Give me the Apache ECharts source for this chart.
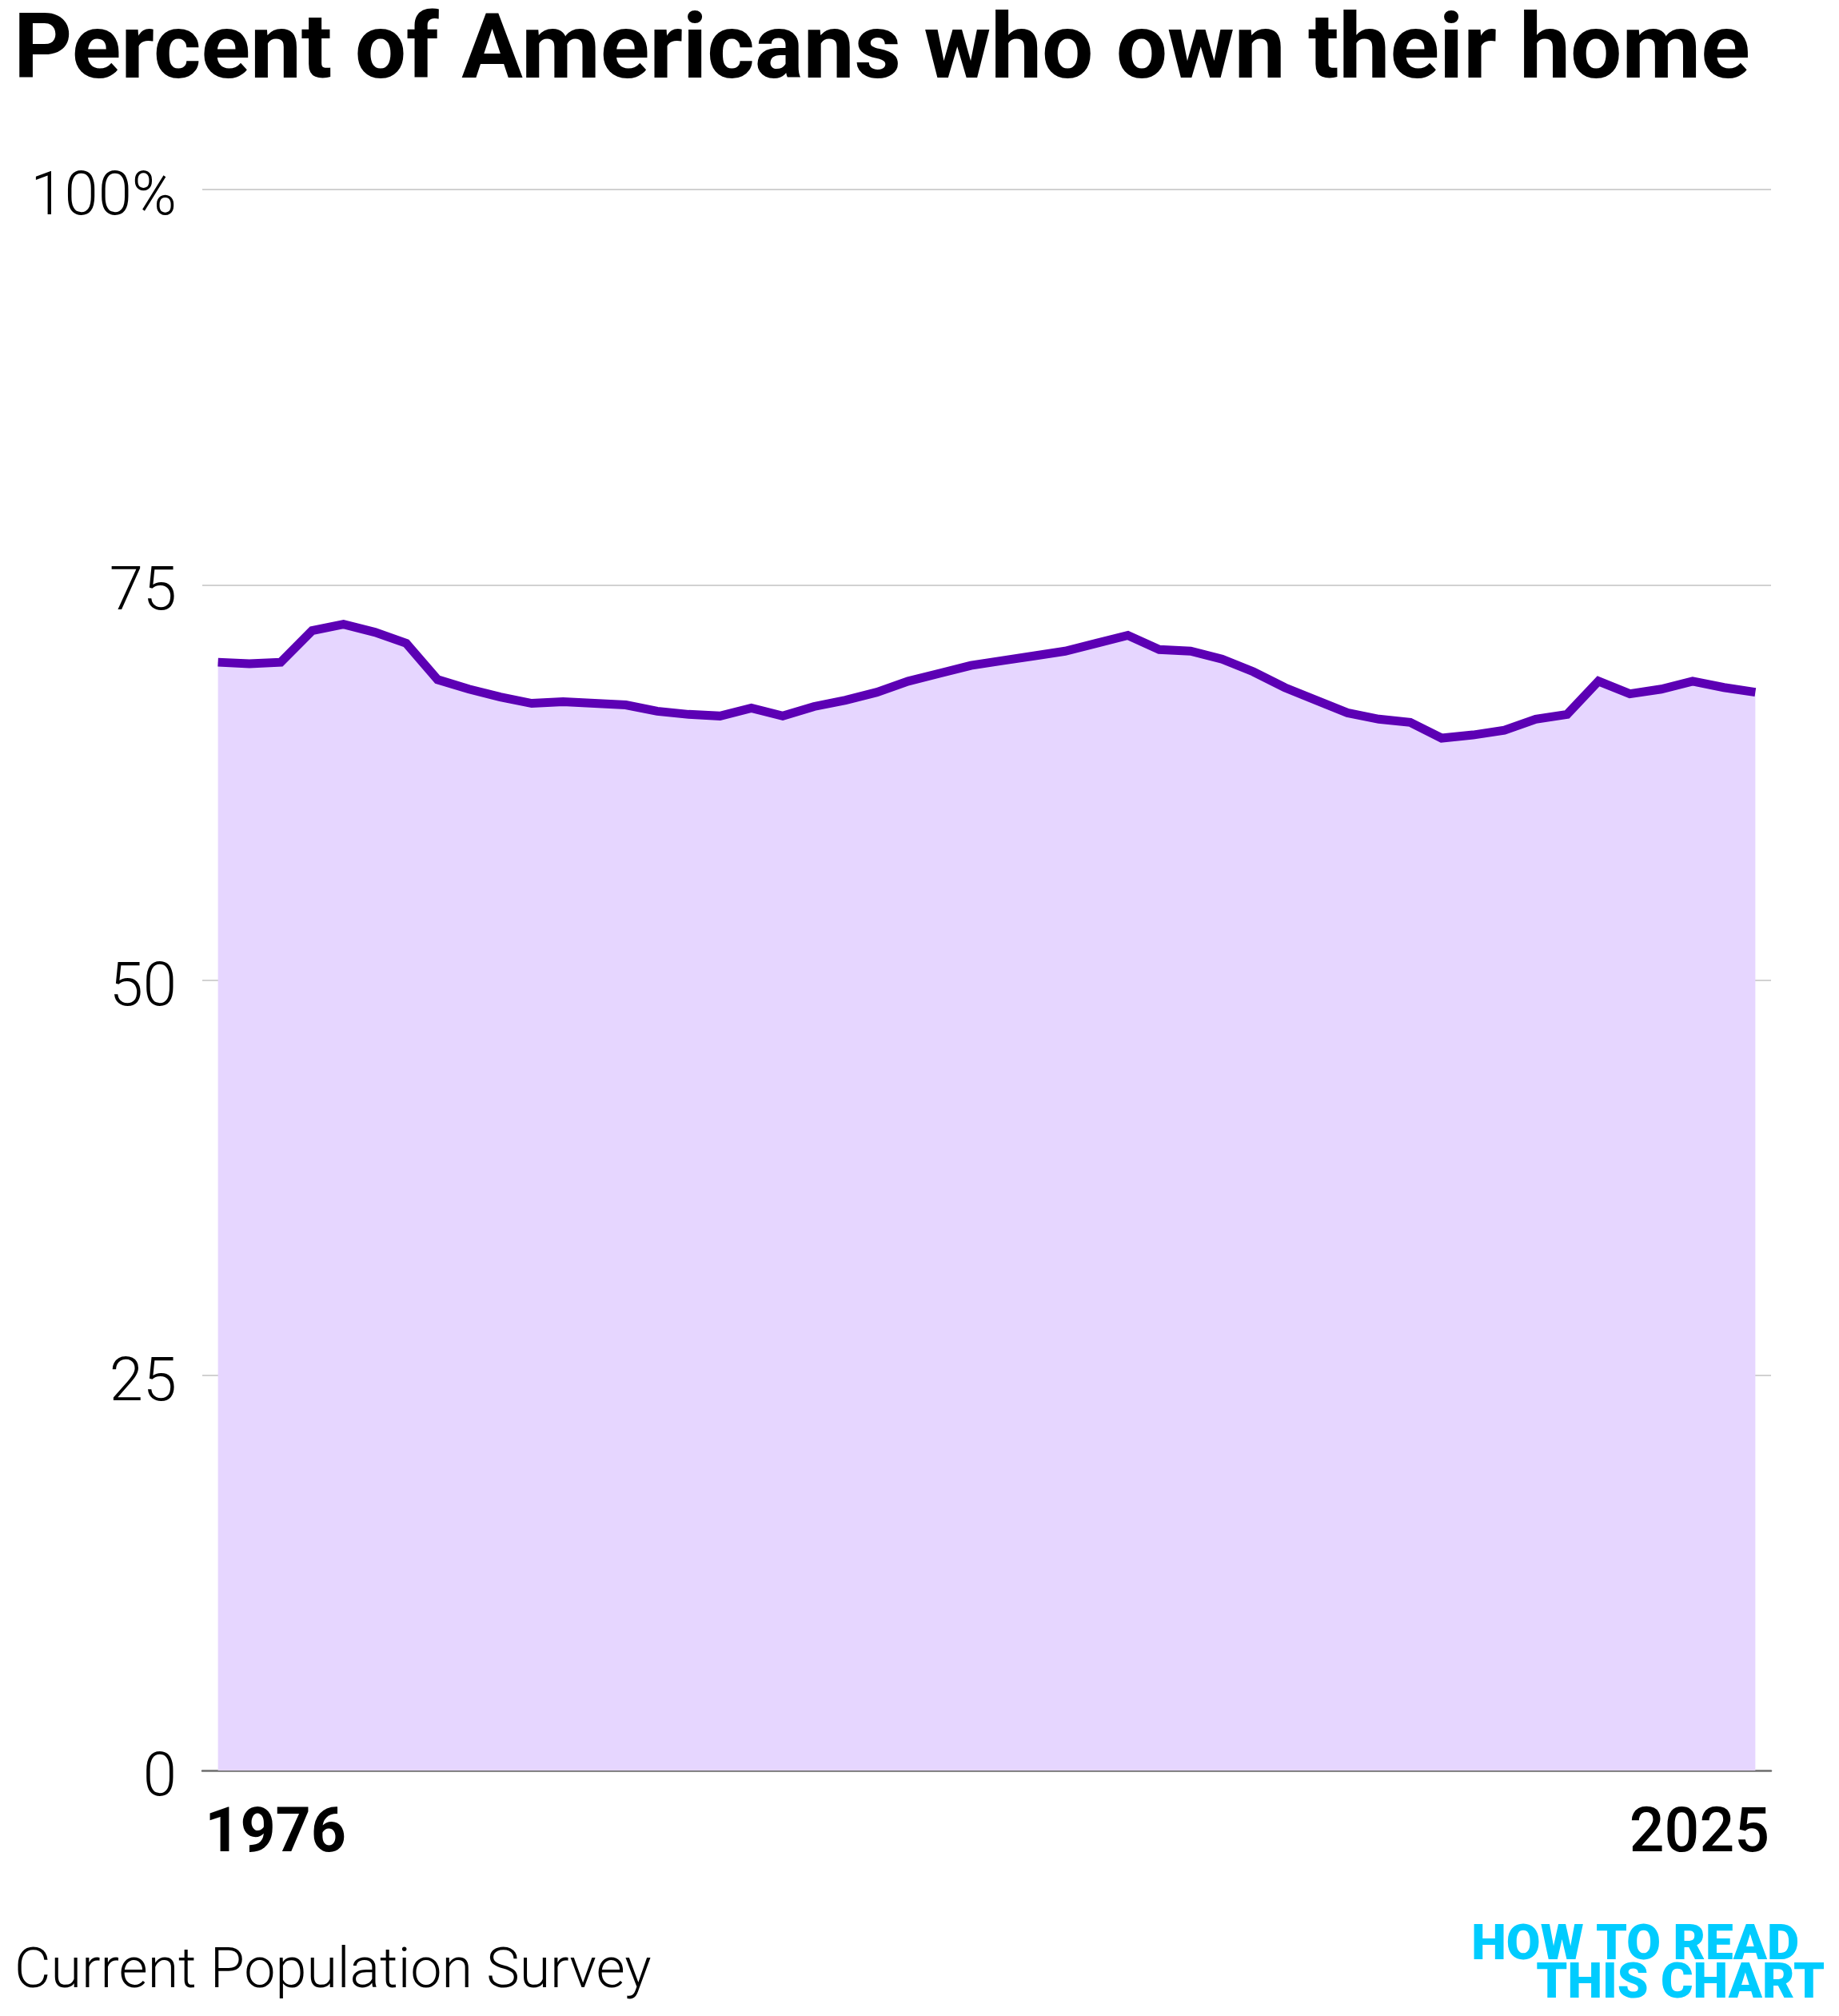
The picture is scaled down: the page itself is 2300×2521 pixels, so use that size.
<!DOCTYPE html>
<html>
<head>
<meta charset="utf-8">
<style>
  html, body { margin: 0; padding: 0; background: #ffffff; }
  #chart { width: 2300px; height: 2521px; }
</style>
<script src="https://cdn.jsdelivr.net/npm/echarts@6/dist/echarts.min.js"></script>
</head>
<body>
<div id="chart"></div>
<script>
const titleText = 'Percent of Americans who own their home';
const sourceText = 'Current Population Survey';
const logoLine1 = 'HOW TO READ';
const logoLine2 = 'THIS CHART';

const years = [
  '1976','1977','1978','1979','1980','1981','1982','1983','1984','1985',
  '1986','1987','1988','1989','1990','1991','1992','1993','1994','1995',
  '1996','1997','1998','1999','2000','2001','2002','2003','2004','2005',
  '2006','2007','2008','2009','2010','2011','2012','2013','2014','2015',
  '2016','2017','2018','2019','2020','2021','2022','2023','2024','2025'
];

const ownershipRate = [
  70.1, 70.0, 70.1, 72.1, 72.5, 72.0, 71.3, 69.0, 68.4, 67.9,
  67.5, 67.6, 67.5, 67.4, 67.0, 66.8, 66.7, 67.2, 66.7, 67.3,
  67.7, 68.2, 68.9, 69.4, 69.9, 70.2, 70.5, 70.8, 71.3, 71.8,
  70.9, 70.8, 70.3, 69.5, 68.5, 67.7, 66.9, 66.5, 66.3, 65.3,
  65.5, 65.8, 66.5, 66.8, 68.9, 68.1, 68.4, 68.9, 68.5, 68.2
];

const yTicks = [0, 25, 50, 75, 100];

const chart = echarts.init(document.getElementById('chart'), null, { renderer: 'canvas' });

const FONT = 'Roboto, "Noto Sans", sans-serif';

chart.setOption({
  backgroundColor: '#ffffff',
  animation: false,
  title: {
    text: titleText,
    left: 12,
    top: 6,
    textStyle: {
      fontFamily: FONT,
      fontSize: 114,
      fontWeight: 'bold',
      color: '#000000'
    }
  },
  grid: {
    left: 253,
    right: 85,
    top: 237,
    bottom: 307,
    containLabel: false
  },
  xAxis: {
    type: 'category',
    data: years,
    boundaryGap: true,
    axisLine: { show: true, lineStyle: { color: '#707070', width: 2.5 } },
    axisTick: { show: false },
    splitLine: { show: false },
    axisLabel: {
      interval: 0,
      margin: 43,
      align: 'center',
      fontFamily: FONT,
      fontSize: 77,
      color: '#000000',
      formatter: function (v, i) {
        if (i === 0) return '{first|' + v + '}';
        if (i === years.length - 1) return '{last|' + v + '}';
        return '';
      },
      rich: {
        first: { fontFamily: FONT, fontSize: 77, fontWeight: 'bold', color: '#000000', padding: [0, 0, 0, 144] },
        last: { fontFamily: FONT, fontSize: 77, fontWeight: 500, color: '#000000', padding: [0, 140, 0, 0] }
      }
    }
  },
  yAxis: {
    type: 'value',
    min: yTicks[0],
    max: yTicks[yTicks.length - 1],
    interval: 25,
    axisLine: { show: false },
    axisTick: { show: false },
    splitLine: { show: true, lineStyle: { color: '#c2c2c2', width: 1.5 } },
    axisLabel: {
      margin: 32,
      fontFamily: FONT,
      fontSize: 76,
      fontWeight: 300,
      color: '#000000',
      formatter: function (v) { return '{v|' + (v === 100 ? '100%' : String(v)) + '}'; },
      rich: {
        v: { fontFamily: FONT, fontSize: 76, fontWeight: 300, color: '#000000', padding: [24, 0, 0, 0] }
      }
    }
  },
  series: [{
    type: 'line',
    data: ownershipRate,
    symbol: 'none',
    smooth: false,
    lineStyle: { color: '#5c00b4', width: 11, join: 'miter' },
    areaStyle: { color: '#e6d6ff', opacity: 1 },
    z: 3
  }],
  graphic: [
    {
      type: 'text',
      left: 18,
      top: 2432,
      style: {
        text: sourceText,
        fontFamily: FONT,
        fontSize: 70,
        fontWeight: 300,
        fill: '#000000'
      }
    },
    {
      type: 'text',
      right: 2300 - 2250,
      top: 2403,
      style: {
        text: logoLine1,
        fontFamily: FONT,
        fontSize: 62,
        fontWeight: 900,
        fill: '#00ccff'
      }
    },
    {
      type: 'text',
      right: 2300 - 2282,
      top: 2451,
      style: {
        text: logoLine2,
        fontFamily: FONT,
        fontSize: 62,
        fontWeight: 900,
        fill: '#00ccff'
      }
    }
  ]
});
</script>
</body>
</html>
